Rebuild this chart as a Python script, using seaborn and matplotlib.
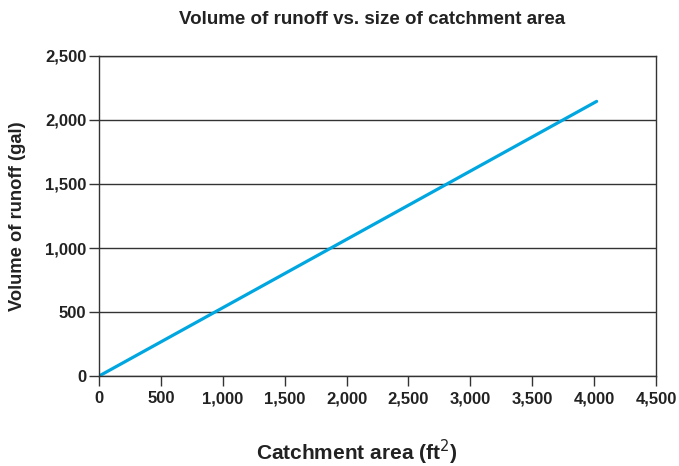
import matplotlib
matplotlib.use("Agg")
import matplotlib.pyplot as plt
import matplotlib.ticker as mticker
import seaborn as sns
import pandas as pd

# --- Data ---
catchment_area = [0, 4020]   # ft^2
runoff_volume = [0, 2145]    # gal
x_ticks = [0, 500, 1000, 1500, 2000, 2500, 3000, 3500, 4000, 4500]
y_ticks = [0, 500, 1000, 1500, 2000, 2500]

df = pd.DataFrame({"area": catchment_area, "volume": runoff_volume})

sns.set_theme(style="white")
plt.rcParams['font.family'] = ['Liberation Sans', 'DejaVu Sans']

fig = plt.figure(figsize=(6.79, 4.66), dpi=100)
ax = fig.add_axes([0.1458, 0.193, 0.8204, 0.687])

sns.lineplot(data=df, x="area", y="volume", ax=ax, color="#00a6e0", linewidth=2.3)

ax.set_xlim(0, 4500)
ax.set_ylim(0, 2500)
ax.set_xticks(x_ticks)
ax.set_yticks(y_ticks)
fmt = mticker.FuncFormatter(lambda v, p: f"{int(v):,}")
ax.xaxis.set_major_formatter(fmt)
ax.yaxis.set_major_formatter(fmt)
ax.yaxis.grid(True, color="#333333", linewidth=1.0)
ax.set_axisbelow(True)

for s in ax.spines.values():
    s.set_color("#333333")
    s.set_linewidth(1.0)

ax.tick_params(axis="both", direction="out", length=7, width=1, color="#333333",
               labelsize=12, bottom=True, left=True)
ax.tick_params(axis="x", pad=4)
ax.tick_params(axis="y", pad=2)
for lbl in ax.get_xticklabels() + ax.get_yticklabels():
    lbl.set_fontweight("bold")
    lbl.set_color("#222222")

ax.set_xlabel("Catchment area (ft$^2$)", fontsize=15, fontweight="bold", color="#222222")
ax.xaxis.set_label_coords(0.463, -0.193)
ax.set_ylabel("Volume of runoff (gal)", fontsize=13.2, fontweight="bold", color="#222222")
ax.yaxis.set_label_coords(-0.131, 0.5)
fig.text(0.548, 0.958, "Volume of runoff vs. size of catchment area", ha="center", va="center",
         fontsize=13.5, fontweight="bold", color="#222222")

fig.savefig("out.png", dpi=100)
